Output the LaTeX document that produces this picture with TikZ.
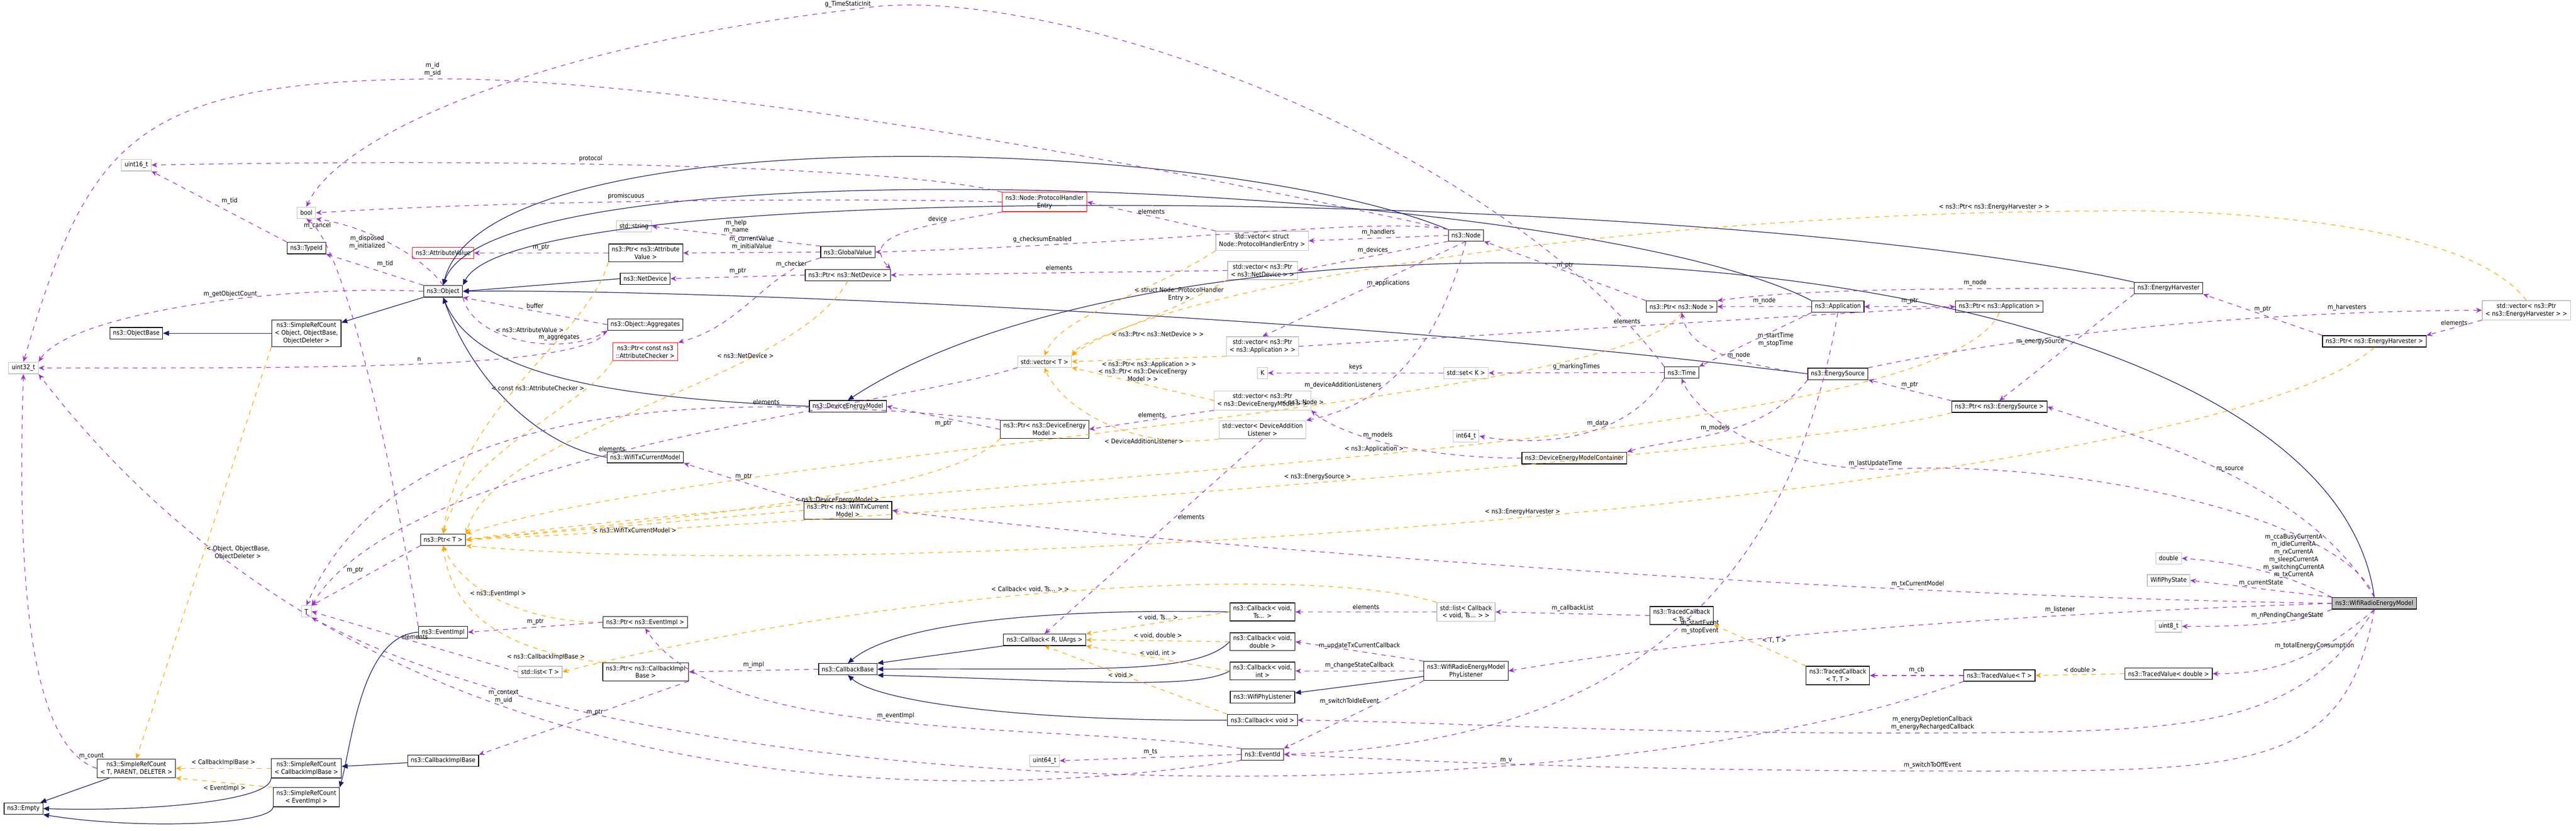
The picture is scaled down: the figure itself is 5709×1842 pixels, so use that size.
\documentclass[tikz,border=0pt]{standalone}
\usepackage{fontspec}
\setmainfont{DejaVu Sans Condensed}
\usetikzlibrary{arrows.meta}
\definecolor{usecol}{HTML}{9A32CD}
\definecolor{tplcol}{HTML}{FFA500}
\definecolor{inhcol}{HTML}{191970}
\begin{document}
\begin{tikzpicture}[x=0.1mm, y=-0.1mm, font=\fontsize{4}{4.8}\selectfont]

    % Define styles
    \tikzset{
        cls/.style = {rectangle, draw=black, fill=white, align=center, inner xsep=0.7mm, inner ysep=0.6mm, minimum height=2.5mm},
        ext/.style = {cls, draw=gray!50},
        bad/.style = {cls, draw=red},
        focus/.style = {cls, fill=gray!50},
        inh/.style = {inhcol, -{Triangle[length=1.3mm, width=1.1mm]}},
        use/.style = {usecol, dashed, -{Stealth[length=1.3mm, width=1.1mm]}},
        tpl/.style = {tplcol, dashed, -{Stealth[length=1.3mm, width=1.1mm]}},
        lbl/.style = {text=black, align=center, inner sep=0.5mm}
    }
    \useasboundingbox (0,0) rectangle (5709,1842);

    % Nodes
    \node (u16) [ext] at (302,366) {uint16\_t};
    \node (bool) [ext] at (679,472) {bool};
    \node (tid) [cls] at (679,550) {ns3::TypeId};
    \node (attrv) [bad] at (982,561) {ns3::AttributeValue};
    \node (obj) [cls] at (982,646) {ns3::Object};
    \node (objbase) [cls] at (302,739) {ns3::ObjectBase};
    \node (srcobj) [cls] at (679,739) {ns3::SimpleRefCount\\< Object, ObjectBase,\\ObjectDeleter >};
    \node (u32) [ext] at (52,816) {uint32\_t};
    \node (ptrT) [cls] at (982,1197) {ns3::Ptr< T >};
    \node (T) [ext] at (679,1356) {T};
    \node (evimpl) [cls] at (982,1402) {ns3::EventImpl};
    \node (listT) [ext] at (1197,1490) {std::list< T >};
    \node (cbimpl) [cls] at (982,1687) {ns3::CallbackImplBase};
    \node (srcT) [cls] at (302,1704) {ns3::SimpleRefCount\\< T, PARENT, DELETER >};
    \node (srccb) [cls] at (679,1704) {ns3::SimpleRefCount\\< CallbackImplBase >};
    \node (srcev) [cls] at (679,1768) {ns3::SimpleRefCount\\< EventImpl >};
    \node (empty) [cls] at (52,1793) {ns3::Empty};
    \node (phe) [bad] at (2315,448) {ns3::Node::ProtocolHandler\\Entry};
    \node (str) [ext] at (1405,502) {std::string};
    \node (ptrav) [cls] at (1431,561) {ns3::Ptr< ns3::Attribute\\Value >};
    \node (gv) [cls] at (1879,559) {ns3::GlobalValue};
    \node (netdev) [cls] at (1430,618) {ns3::NetDevice};
    \node (ptrnd) [cls] at (1879,610) {ns3::Ptr< ns3::NetDevice >};
    \node (aggr) [cls] at (1430,720) {ns3::Object::Aggregates};
    \node (ptrac) [bad] at (1430,780) {ns3::Ptr< const ns3\\::AttributeChecker >};
    \node (dem) [cls] at (1879,901) {ns3::DeviceEnergyModel};
    \node (wtcm) [cls] at (1430,1014) {ns3::WifiTxCurrentModel};
    \node (ptrwtcm) [cls] at (1879,1132) {ns3::Ptr< ns3::WifiTxCurrent\\Model >};
    \node (vecT) [ext] at (2315,802) {std::vector< T >};
    \node (vecphe) [ext] at (2797,534) {std::vector< struct\\Node::ProtocolHandlerEntry >};
    \node (vecnd) [ext] at (2798,600) {std::vector< ns3::Ptr\\< ns3::NetDevice > >};
    \node (vecapp) [ext] at (2798,768) {std::vector< ns3::Ptr\\< ns3::Application > >};
    \node (K) [ext] at (2798,827) {K};
    \node (setK) [ext] at (3249,827) {std::set< K >};
    \node (vecdem) [ext] at (2798,888) {std::vector< ns3::Ptr\\< ns3::DeviceEnergyModel > >};
    \node (vecdal) [ext] at (2798,953) {std::vector< DeviceAddition\\Listener >};
    \node (i64) [ext] at (3249,967) {int64\_t};
    \node (demc) [cls] at (3489,1016) {ns3::DeviceEnergyModelContainer};
    \node (ptrdem) [cls] at (2315,952) {ns3::Ptr< ns3::DeviceEnergy\\Model >};
    \node (cbts) [cls] at (2798,1357) {ns3::Callback< void,\\Ts... >};
    \node (cbdbl) [cls] at (2798,1423) {ns3::Callback< void,\\double >};
    \node (cbint) [cls] at (2798,1488) {ns3::Callback< void,\\int >};
    \node (wpl) [cls] at (2798,1546) {ns3::WifiPhyListener};
    \node (cbv) [cls] at (2798,1597) {ns3::Callback< void >};
    \node (evid) [cls] at (2798,1673) {ns3::EventId};
    \node (listcb) [ext] at (3249,1357) {std::list< Callback\\< void, Ts... > >};
    \node (phyl) [cls] at (3249,1488) {ns3::WifiRadioEnergyModel\\PhyListener};
    \node (cbbase) [cls] at (1879,1484) {ns3::CallbackBase};
    \node (cbR) [cls] at (2315,1419) {ns3::Callback< R, UArgs >};
    \node (ptrcbi) [cls] at (1431,1490) {ns3::Ptr< ns3::CallbackImpl\\Base >};
    \node (ptrev) [cls] at (1430,1380) {ns3::Ptr< ns3::EventImpl >};
    \node (u64) [ext] at (2315,1687) {uint64\_t};
    \node (node) [cls] at (3249,522) {ns3::Node};
    \node (ptrnode) [cls] at (3727,680) {ns3::Ptr< ns3::Node >};
    \node (app) [cls] at (4073,680) {ns3::Application};
    \node (time) [cls] at (3727,826) {ns3::Time};
    \node (esrc) [cls] at (4073,829) {ns3::EnergySource};
    \node (tcts) [cls] at (3727,1365) {ns3::TracedCallback\\< Ts >};
    \node (tctt) [cls] at (4073,1498) {ns3::TracedCallback\\< T, T >};
    \node (eh) [cls] at (4806,639) {ns3::EnergyHarvester};
    \node (ptrapp) [cls] at (4431,680) {ns3::Ptr< ns3::Application >};
    \node (vecehr) [ext] at (5599,688) {std::vector< ns3::Ptr\\< ns3::EnergyHarvester > >};
    \node (ptreh) [cls] at (5262,757) {ns3::Ptr< ns3::EnergyHarvester >};
    \node (ptres) [cls] at (4431,902) {ns3::Ptr< ns3::EnergySource >};
    \node (dbl) [ext] at (4806,1238) {double};
    \node (wps) [ext] at (4806,1287) {WifiPhyState};
    \node (wre) [focus] at (5262,1338) {ns3::WifiRadioEnergyModel};
    \node (u8) [ext] at (4806,1389) {uint8\_t};
    \node (tvT) [cls] at (4431,1498) {ns3::TracedValue< T >};
    \node (tvd) [cls] at (4806,1494) {ns3::TracedValue< double >};

    % Inheritance
    \draw [inh] (srcobj) -- (objbase);
    \draw [inh] (obj) -- (srcobj);
    \draw [inh] (srcT) -- (empty);
    \draw [inh] (srccb.south west) .. controls (600,1780) and (300,1800) .. (empty.east);
    \draw [inh] (srcev.south west) .. controls (600,1830) and (300,1840) .. (empty.south east);
    \draw [inh] (evimpl.west) .. controls (800,1410) and (780,1650) .. (srcev.north east);
    \draw [inh] (cbimpl) -- (srccb);
    \draw [inh] (node.north west) .. controls (2700,300) and (1080,250) .. (obj.north);
    \draw [inh] (app.north west) .. controls (3500,400) and (1100,300) .. (obj.north);
    \draw [inh] (eh.north west) .. controls (3800,420) and (1150,380) .. (obj.north east);
    \draw [inh] (esrc.west) .. controls (3000,700) and (1500,640) .. (obj.east);
    \draw [inh] (netdev.west) -- (obj.east);
    \draw [inh] (wtcm.west) .. controls (1200,990) and (1050,850) .. (obj.south);
    \draw [inh] (dem.west) .. controls (1300,880) and (1050,820) .. (obj.south);
    \draw [inh] (wre.north) .. controls (5150,500) and (2650,380) .. (dem.north);
    \draw [inh] (cbts.west) .. controls (2400,1350) and (2000,1370) .. (cbbase.north);
    \draw [inh] (cbR.south west) -- (cbbase.north east);
    \draw [inh] (cbdbl.west) .. controls (2650,1500) and (2400,1480) .. (cbbase.east);
    \draw [inh] (cbint.west) .. controls (2650,1530) and (2400,1510) .. (cbbase.south east);
    \draw [inh] (cbv.west) .. controls (2300,1600) and (1950,1560) .. (cbbase.south);
    \draw [inh] (phyl) -- (wpl);

    % Templates
    \draw [tpl] (srcobj.south west) -- node[lbl, right] {< Object, ObjectBase,\\ObjectDeleter >} (srcT.north);
    \draw [tpl] (srccb.west) -- node[lbl, above] {< CallbackImplBase >} (srcT.east);
    \draw [tpl] (srcev.north west) -- node[lbl, below] {< EventImpl >} (srcT.south east);
    \draw [tpl] (ptrav.south west) .. controls (1300,750) and (1020,900) .. node[lbl, left, pos=0.3] {< ns3::AttributeValue >} (ptrT.north);
    \draw [tpl] (ptrac.south west) .. controls (1300,900) and (1030,1000) .. node[lbl, left, pos=0.2] {< const ns3::AttributeChecker >} (ptrT.north);
    \draw [tpl] (ptrnd.south) .. controls (1750,850) and (1100,950) .. node[lbl, above, pos=0.3] {< ns3::NetDevice >} (ptrT.north east);
    \draw [tpl] (ptrdem.south west) .. controls (2100,1100) and (1400,1160) .. node[lbl, below, pos=0.4] {< ns3::DeviceEnergyModel >} (ptrT.east);
    \draw [tpl] (ptrwtcm.west) -- node[lbl, below] {< ns3::WifiTxCurrentModel >} (ptrT.east);
    \draw [tpl] (ptrnode.south) .. controls (3600,900) and (1600,1000) .. node[lbl, above, pos=0.4] {< ns3::Node >} (ptrT.north east);
    \draw [tpl] (ptrapp.south) .. controls (4300,1000) and (2000,1060) .. node[lbl, above, pos=0.5] {< ns3::Application >} (ptrT.east);
    \draw [tpl] (ptres.south west) .. controls (4000,1000) and (2000,1150) .. node[lbl, above, pos=0.5] {< ns3::EnergySource >} (ptrT.east);
    \draw [tpl] (ptreh.south) .. controls (4900,1100) and (2000,1300) .. node[lbl, above, pos=0.5] {< ns3::EnergyHarvester >} (ptrT.south east);
    \draw [tpl] (ptrev.west) .. controls (1150,1380) and (1020,1300) .. node[lbl, above] {< ns3::EventImpl >} (ptrT.south);
    \draw [tpl] (ptrcbi.north west) .. controls (1100,1440) and (1000,1350) .. node[lbl, below, pos=0.2] {< ns3::CallbackImplBase >} (ptrT.south);
    \draw [tpl] (listcb.north west) .. controls (2900,1250) and (2000,1300) .. node[lbl, above, pos=0.55] {< Callback< void, Ts... > >} (listT.east);
    \draw [tpl] (vecphe.south west) .. controls (2550,650) and (2350,700) .. node[lbl, right, pos=0.4] {< struct Node::ProtocolHandler\\Entry >} (vecT.north);
    \draw [tpl] (vecnd.south west) .. controls (2550,720) and (2400,750) .. node[lbl, right, pos=0.6] {< ns3::Ptr< ns3::NetDevice > >} (vecT.north east);
    \draw [tpl] (vecapp.south west) -- node[lbl, below] {< ns3::Ptr< ns3::Application > >} (vecT.east);
    \draw [tpl] (vecdem.west) -- node[lbl, above] {< ns3::Ptr< ns3::DeviceEnergy\\Model > >} (vecT.south east);
    \draw [tpl] (vecdal.south west) .. controls (2500,1000) and (2350,900) .. node[lbl, below, pos=0.3] {< DeviceAdditionListener >} (vecT.south);
    \draw [tpl] (vecehr.north) .. controls (5450,470) and (4800,465) .. (4650,468) .. controls (3700,470) and (2600,620) .. node[lbl, above, pos=0.08] {< ns3::Ptr< ns3::EnergyHarvester > >} (vecT.north east);
    \draw [tpl] (cbts.west) -- node[lbl, above] {< void, Ts... >} (cbR.north east);
    \draw [tpl] (cbdbl.west) -- node[lbl, above] {< void, double >} (cbR.east);
    \draw [tpl] (cbint.west) -- node[lbl, above] {< void, int >} (cbR.south east);
    \draw [tpl] (cbv.north west) -- node[lbl, above left] {< void >} (cbR.south);
    \draw [tpl] (tctt.north west) -- node[lbl, above right] {< T, T >} (tcts.south east);
    \draw [tpl] (tvd.west) -- node[lbl, above] {< double >} (tvT.east);

    % Members
    \draw [use] (tid.north west) -- node[lbl, above right] {m\_tid} (u16.south east);
    \draw [use] (obj.north west) -- node[lbl, above right] {m\_tid} (tid.south east);
    \draw [use] (obj.north) .. controls (930,560) and (800,500) .. node[lbl, left, pos=0.5] {m\_disposed\\m\_initialized} (bool.south east);
    \draw [use] (obj.west) .. controls (600,630) and (150,700) .. node[lbl, above, pos=0.4] {m\_getObjectCount} (u32.north east);
    \draw [use] (evimpl.north west) .. controls (900,1200) and (780,560) .. node[lbl, above, pos=0.92] {m\_cancel} (bool.south);
    \draw [use] (obj.south east) .. controls (1050,760) and (1250,790) .. node[lbl, above, pos=0.7] {m\_aggregates} (aggr.south west);
    \draw [use] (aggr.west) -- node[lbl, above] {buffer} (obj.south east);
    \draw [use] (aggr.south west) .. controls (1300,820) and (700,816) .. node[lbl, above, pos=0.5] {n} (u32.east);
    \draw [use] (srcT.west) .. controls (50,1650) and (40,1200) .. node[lbl, right, pos=0.1] {m\_count} (u32.south);
    \draw [use] (ptrav.west) -- node[lbl, above] {m\_ptr} (attrv.east);
    \draw [use] (gv.north west) -- node[lbl, above] {m\_help\\m\_name} (str.east);
    \draw [use] (gv.west) -- node[lbl, above] {m\_currentValue\\m\_initialValue} (ptrav.east);
    \draw [use] (gv.south west) .. controls (1700,600) and (1650,720) .. node[lbl, above, pos=0.2] {m\_checker} (ptrac.north east);
    \draw [use] (ptrnd.west) -- node[lbl, above] {m\_ptr} (netdev.east);
    \draw [use] (phe.south west) .. controls (2050,500) and (1900,520) .. node[lbl, above, pos=0.3] {device} (ptrnd.north east);
    \draw [use] (phe.west) .. controls (2000,440) and (1200,440) .. node[lbl, above, pos=0.6] {promiscuous} (bool.east);
    \draw [use] (phe.north west) .. controls (2000,370) and (1200,350) .. node[lbl, above, pos=0.6] {protocol} (u16.east);
    \draw [use] (vecphe.north west) -- node[lbl, above] {elements} (phe.east);
    \draw [use] (vecnd.west) -- node[lbl, above] {elements} (ptrnd.east);
    \draw [use] (node.west) -- node[lbl, above] {m\_handlers} (vecphe.east);
    \draw [use] (node.south west) -- node[lbl, above] {m\_devices} (vecnd.east);
    \draw [use] (node.south) -- node[lbl, above right] {m\_applications} (vecapp.north);
    \draw [use] (node.south) .. controls (3180,800) and (3050,900) .. node[lbl, left, pos=0.6] {m\_deviceAdditionListeners} (vecdal.north east);
    \draw [use] (node.north west) .. controls (2400,330) and (1500,180) .. (1000,175) .. controls (300,175) and (200,300) .. node[lbl, above, pos=0.02] {m\_id\\m\_sid} (u32.north);
    \draw [use] (node.north west) .. controls (3050,480) and (2600,540) .. node[lbl, above, pos=0.8] {g\_checksumEnabled} (gv.east);
    \draw [use] (vecapp.east) -- node[lbl, above] {elements} (ptrapp.west);
    \draw [use] (vecT.south west) .. controls (2000,900) and (900,1000) .. node[lbl, above, pos=0.55] {elements} (T.north east);
    \draw [use] (listT.west) -- node[lbl, above] {elements} (T.east);
    \draw [use] (ptrT.south west) -- node[lbl, above left] {m\_ptr} (T.north east);
    \draw [use] (setK.west) -- node[lbl, above] {keys} (K.east);
    \draw [use] (time.west) -- node[lbl, above] {g\_markingTimes} (setK.east);
    \draw [use] (time.north west) .. controls (3300,300) and (2300,-50) .. (1900,20) .. controls (1200,100) and (750,300) .. node[lbl, above, pos=0.01] {g\_TimeStaticInit} (bool.north);
    \draw [use] (time.south west) .. controls (3600,980) and (3400,990) .. node[lbl, above, pos=0.4] {m\_data} (i64.east);
    \draw [use] (ptrnode.north west) -- node[lbl, above] {m\_ptr} (node.south east);
    \draw [use] (app.west) -- node[lbl, above] {m\_node} (ptrnode.east);
    \draw [use] (app.south west) -- node[lbl, right] {m\_startTime\\m\_stopTime} (time.north east);
    \draw [use] (app.south) .. controls (3950,1400) and (3500,1650) .. node[lbl, right, pos=0.45] {m\_startEvent\\m\_stopEvent} (evid.east);
    \draw [use] (esrc.west) .. controls (3800,800) and (3740,760) .. node[lbl, right, pos=0.4] {m\_node} (ptrnode.south);
    \draw [use] (esrc.south west) .. controls (3900,980) and (3700,970) .. node[lbl, above, pos=0.5] {m\_models} (demc.north east);
    \draw [use] (esrc.north east) .. controls (4500,740) and (5000,690) .. node[lbl, above, pos=0.8] {m\_harvesters} (vecehr.west);
    \draw [use] (eh.west) .. controls (4300,640) and (4000,640) .. node[lbl, above, pos=0.3] {m\_node} (ptrnode.north east);
    \draw [use] (eh.south west) -- node[lbl, above left] {m\_energySource} (ptres.north);
    \draw [use] (ptrapp.west) -- node[lbl, above] {m\_ptr} (app.east);
    \draw [use] (ptres.north west) -- node[lbl, above] {m\_ptr} (esrc.south east);
    \draw [use] (ptreh.north west) -- node[lbl, above] {m\_ptr} (eh.south east);
    \draw [use] (vecehr.south west) -- node[lbl, above] {elements} (ptreh.north east);
    \draw [use] (demc.west) .. controls (3100,1015) and (2950,950) .. node[lbl, above, pos=0.5] {m\_models} (vecdem.south east);
    \draw [use] (vecdem.south west) -- node[lbl, above] {elements} (ptrdem.east);
    \draw [use] (ptrdem.west) -- node[lbl, below] {m\_ptr} (dem.east);
    \draw [use] (ptrdem.north west) .. controls (1700,880) and (900,840) .. node[lbl, above, pos=0.3] {elements} (T.north);
    \draw [use] (ptrwtcm.north west) -- node[lbl, above] {m\_ptr} (wtcm.south east);
    \draw [use] (vecdal.south) -- node[lbl, right, pos=0.4] {elements} (cbR.north);
    \draw [use] (cbbase.west) -- node[lbl, above] {m\_impl} (ptrcbi.east);
    \draw [use] (ptrcbi.south east) -- node[lbl, above right] {m\_ptr} (cbimpl.north east);
    \draw [use] (ptrev.west) -- node[lbl, above] {m\_ptr} (evimpl.east);
    \draw [use] (evid.north west) .. controls (2300,1600) and (1600,1650) .. node[lbl, above, pos=0.5] {m\_eventImpl} (ptrev.south);
    \draw [use] (evid.west) -- node[lbl, above] {m\_ts} (u64.east);
    \draw [use] (evid.south west) .. controls (2000,1800) and (800,1760) .. node[lbl, above, pos=0.6] {m\_context\\m\_uid} (u32.south east);
    \draw [use] (listcb.west) -- node[lbl, above] {elements} (cbts.east);
    \draw [use] (tcts.west) -- node[lbl, above] {m\_callbackList} (listcb.east);
    \draw [use] (tvT.west) -- node[lbl, above] {m\_cb} (tctt.east);
    \draw [use] (tvT.south west) .. controls (3500,1820) and (1500,1800) .. node[lbl, above, pos=0.3] {m\_v} (T.south east);
    \draw [use] (phyl.north west) -- node[lbl, above] {m\_updateTxCurrentCallback} (cbdbl.east);
    \draw [use] (phyl.west) -- node[lbl, above] {m\_changeStateCallback} (cbint.east);
    \draw [use] (phyl.south west) -- node[lbl, left, pos=0.3] {m\_switchToIdleEvent} (evid.north east);
    \draw [use] (wre.west) .. controls (4500,1360) and (3800,1410) .. node[lbl, above, pos=0.3] {m\_listener} (phyl.east);
    \draw [use] (wre.north) .. controls (5100,1050) and (4700,960) .. node[lbl, above, pos=0.45] {m\_source} (ptres.east);
    \draw [use] (wre.north) .. controls (5200,1150) and (4600,1020) .. (4200,1040) .. controls (3900,1050) and (3750,900) .. node[lbl, above, pos=0.05] {m\_lastUpdateTime} (time.south);
    \draw [use] (wre.north west) .. controls (5100,1290) and (5000,1250) .. node[lbl, above, pos=0.35] {m\_ccaBusyCurrentA\\m\_idleCurrentA\\m\_rxCurrentA\\m\_sleepCurrentA\\m\_switchingCurrentA\\m\_txCurrentA} (dbl.east);
    \draw [use] (wre.north west) -- node[lbl, above] {m\_currentState} (wps.east);
    \draw [use] (wre.west) .. controls (4000,1320) and (2500,1200) .. node[lbl, above, pos=0.25] {m\_txCurrentModel} (ptrwtcm.east);
    \draw [use] (wre.south west) .. controls (5100,1380) and (5000,1390) .. node[lbl, above, pos=0.4] {m\_nPendingChangeState} (u8.east);
    \draw [use] (wre.south) .. controls (5150,1450) and (5050,1495) .. node[lbl, above, pos=0.4] {m\_totalEnergyConsumption} (tvd.east);
    \draw [use] (wre.south) .. controls (5100,1600) and (4900,1620) .. (4400,1625) .. controls (3600,1630) and (3200,1600) .. node[lbl, above, pos=0.05] {m\_energyDepletionCallback\\m\_energyRechargedCallback} (cbv.east);
    \draw [use] (wre.south) .. controls (5200,1700) and (5000,1710) .. (4400,1710) .. controls (3600,1710) and (3200,1690) .. node[lbl, above, pos=0.05] {m\_switchToOffEvent} (evid.east);
\end{tikzpicture}
\end{document}
